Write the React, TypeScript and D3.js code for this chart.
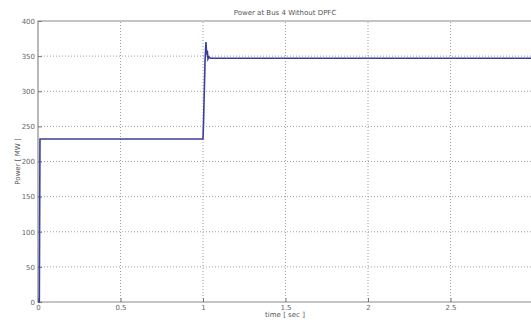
import { useRef, useEffect } from 'react';
import * as d3 from 'd3';

const width = 531;
const height = 320;
const margin = { top: 21, right: -2, bottom: 18, left: 38 };

// simulated power trace
const times = [0, 0.008, 0.012, 0.5, 1.0, 1.004, 1.012, 1.018, 1.022, 1.026, 1.03, 1.036, 1.045, 3];
const power = [0, 0, 232, 232, 232, 262, 340, 370, 352, 358, 346, 349, 347, 347];

const xTicks = [0, 0.5, 1, 1.5, 2, 2.5, 3];
const yTicks = [0, 50, 100, 150, 200, 250, 300, 350, 400];

const App = () => {
  const ref = useRef<SVGSVGElement>(null);

  useEffect(() => {
    const svg = d3.select(ref.current);
    svg.selectAll('*').remove();

    const x = d3.scaleLinear().domain([0, 3]).range([margin.left, width - margin.right]);
    const y = d3.scaleLinear().domain([0, 400]).range([height - margin.bottom, margin.top]);

    const grid = svg.append('g');
    // grid, MATLAB style dotted
    grid.selectAll('.gx').data(xTicks.slice(1)).join('line')
      .attr('x1', d => x(d)).attr('x2', d => x(d))
      .attr('y1', y(0)).attr('y2', y(400))
      .attr('stroke', '#888').attr('stroke-dasharray', '1,2').attr('stroke-width', 0.8);
    grid.selectAll('.gy').data(yTicks.slice(1, -1)).join('line')
      .attr('x1', x(0)).attr('x2', width)
      .attr('y1', d => y(d)).attr('y2', d => y(d))
      .attr('stroke', '#888').attr('stroke-dasharray', '1,2').attr('stroke-width', 0.8);

    // box
    svg.append('path')
      .attr('d', `M${width},${y(400)}H${x(0)}V${y(0)}H${width}`)
      .attr('fill', 'none').attr('stroke', '#8a8a8a').attr('stroke-width', 1.2);

    const xAxis = d3.axisBottom(x).tickValues(xTicks).tickSize(-4).tickPadding(3).tickFormat(d3.format('~g'));
    const gx = svg.append('g').attr('transform', `translate(0,${y(0)})`).call(xAxis);
    const yAxis = d3.axisLeft(y).tickValues(yTicks).tickSize(-4).tickPadding(3);
    const gy = svg.append('g').attr('transform', `translate(${x(0)},0)`).call(yAxis);
    [gx, gy].forEach(g => {
      g.select('.domain').remove();
      g.selectAll('line').attr('stroke', '#777');
      g.selectAll('text').attr('fill', '#666').attr('font-size', 7).attr('font-family', 'DejaVu Sans');
    });

    const line = d3.line<number>().x((_, i) => x(times[i])).y(d => y(d));
    svg.append('path').datum(power).attr('d', line)
      .attr('fill', 'none').attr('stroke', '#3b3f9c').attr('stroke-width', 1.6);

    const label = (t: string) => svg.append('text').text(t)
      .attr('font-family', 'DejaVu Sans').attr('font-size', 7).attr('fill', '#555').attr('text-anchor', 'middle');
    label('Power at Bus 4 Without DPFC').attr('x', 285).attr('y', 15);
    label('time [ sec ]').attr('x', 285).attr('y', 317);
    label('Power [ MW ]').attr('transform', `translate(20,${y(200)}) rotate(-90)`);
  }, []);

  return (
    <svg ref={ref} width={width} height={height}
      style={{ position: 'absolute', left: 0, top: 0, background: '#fff' }} />
  );
};

export default App;
